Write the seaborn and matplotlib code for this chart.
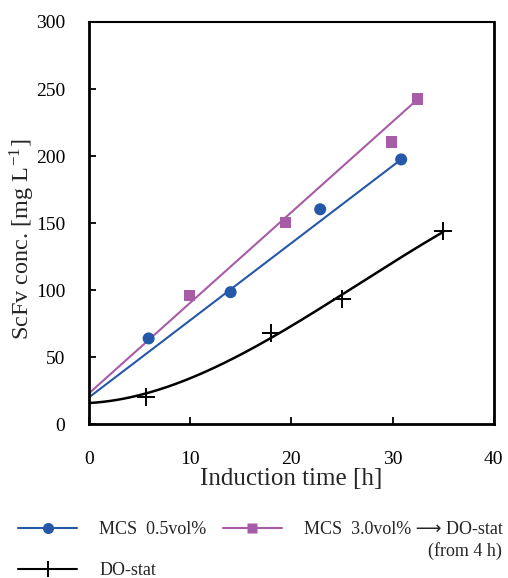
import numpy as np
import pandas as pd
import seaborn as sns
import matplotlib
matplotlib.use("Agg")
import matplotlib.pyplot as plt
from matplotlib.lines import Line2D

# Data
mcs05_t = [5.9, 14.0, 22.85, 30.85]
mcs05_y = [64, 98.5, 160.3, 197.5]
mcs05_fit_t = [0, 30.85]
mcs05_fit_y = [20, 197.5]

mcs30_t = [9.9, 19.4, 29.9, 32.5]
mcs30_y = [96, 150.6, 210.5, 242.5]
mcs30_fit_t = [0, 32.5]
mcs30_fit_y = [23, 242.5]

do_t = [5.6, 18.0, 25.0, 35.0]
do_y = [20.3, 68.3, 93.6, 144]
do_start_t = 0
do_start_y = 17

blue = "#2558A8"
purple = "#A85BA6"

sns.set_theme(style="ticks")
plt.rcParams["font.family"] = ["Liberation Serif", "DejaVu Sans"]
plt.rcParams["mathtext.fontset"] = "stix"

fig = plt.figure(figsize=(5.08, 5.78), dpi=100)
ax = fig.add_axes([0.175, 0.266, 0.797, 0.696])

# trend lines
sns.lineplot(x=mcs30_fit_t, y=mcs30_fit_y, color=purple, lw=1.5, ax=ax)
sns.lineplot(x=mcs05_fit_t, y=mcs05_fit_y, color=blue, lw=1.5, ax=ax)

# polynomial trend for DO-stat (including initial value at t=0)
fit_t = np.array([do_start_t] + do_t)
fit_y = np.array([do_start_y] + do_y)
coef = np.polyfit(fit_t, fit_y, 3)
tt = np.linspace(0, max(do_t), 200)
sns.lineplot(x=tt, y=np.polyval(coef, tt), color="black", lw=1.8, ax=ax)

# points
sns.scatterplot(x=mcs05_t, y=mcs05_y, color=blue, marker="o", s=75,
                edgecolor="none", ax=ax, zorder=5)
sns.scatterplot(x=mcs30_t, y=mcs30_y, color=purple, marker="s", s=65,
                edgecolor="none", ax=ax, zorder=5)
ax.plot(do_t, do_y, ls="none", marker="+", ms=13, mew=1.4, color="black", zorder=5)

ax.set_xlim(0, 40)
ax.set_ylim(0, 300)
ax.set_xticks([0, 10, 20, 30, 40])
ax.set_yticks(range(0, 301, 50))
ax.tick_params(axis="both", direction="in", length=5, width=1.3,
               labelsize=14, colors="black")
ax.tick_params(axis="x", pad=19)
ax.tick_params(axis="y", pad=17)
for side in ["left", "bottom", "right"]:
    ax.spines[side].set_linewidth(2.0)
ax.spines["top"].set_linewidth(1.5)
for s in ax.spines.values():
    s.set_color("black")

ax.set_xlabel("Induction time [h]", fontsize=18, labelpad=0)
ax.set_ylabel(r"ScFv conc. [mg L$^{\mathregular{-1}}$]", fontsize=17.5)
ax.yaxis.set_label_coords(-0.128, 0.46)

handles = [
    Line2D([], [], color=blue, lw=1.5, marker="o", ms=8, mec="none"),
    Line2D([], [], color="black", lw=1.5, marker="+", ms=12, mew=1.4),
    Line2D([], [], color=purple, lw=1.5, marker="s", ms=7.5, mec="none"),
]
labels = ["MCS  0.5vol%", "DO-stat", "MCS  3.0vol% \u27f6 DO-stat"]
fig.legend(handles, labels, loc="upper left", bbox_to_anchor=(0.035, 0.098),
           ncol=2, frameon=False, fontsize=13, handlelength=3.3,
           handletextpad=1.2, columnspacing=0.9, labelspacing=1.3,
           borderaxespad=0, borderpad=0)
fig.text(0.988, 0.047, "(from 4 h)", ha="right", va="center", fontsize=13)

fig.savefig("out.png", dpi=100)
